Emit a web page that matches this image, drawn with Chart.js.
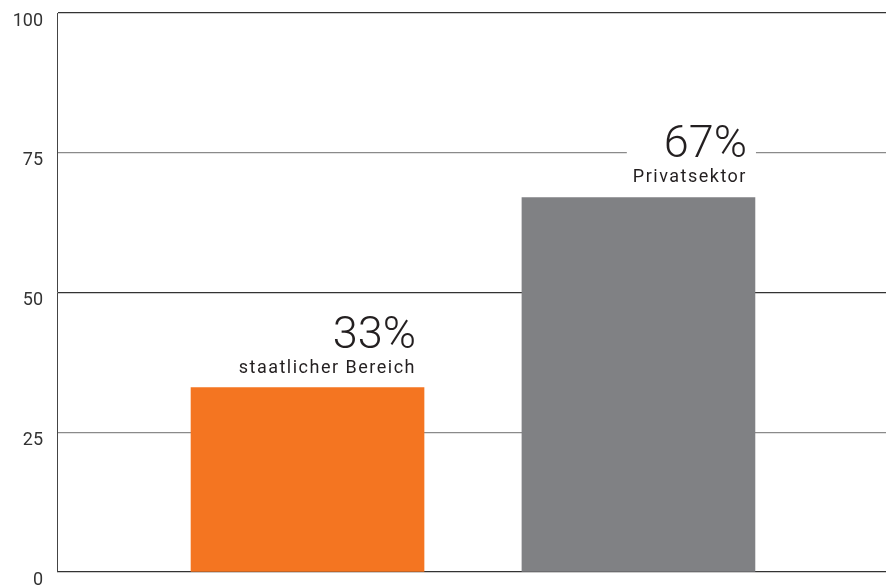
<!DOCTYPE html>
<html lang="de">
<head>
<meta charset="utf-8">
<title>Anteile</title>
<script src="https://cdn.jsdelivr.net/npm/chart.js@4/dist/chart.umd.min.js"></script>
<style>
  html, body { margin: 0; padding: 0; background: #fff; }
  #wrap { width: 893px; height: 586px; position: relative; }
</style>
</head>
<body>
<div id="wrap"><canvas id="myChart"></canvas></div>
<script>
"use strict";

// data
const categories = ["staatlicher Bereich", "Privatsektor"];
const shares = [33, 67];
const shareLabels = ["33%", "67%"];
const barColors = ["#f47521", "#808184"];
const yTicks = [0, 25, 50, 75, 100];

// big % value + small caption right-aligned above each bar, on a white patch
const barLabels = {
  id: "barLabels",
  afterDatasetsDraw(chart) {
    const ctx = chart.ctx;
    const meta = chart.getDatasetMeta(0);
    meta.data.forEach((bar, i) => {
      const right = bar.x + bar.width / 2 - 8;
      const capBase = bar.y - 15;
      const bigBase = bar.y - 40;

      ctx.save();
      ctx.font = "300 45px Roboto";
      const bigW = ctx.measureText(shareLabels[i]).width;
      ctx.font = "400 18px Roboto";
      ctx.letterSpacing = "1.5px";
      const capW = ctx.measureText(categories[i]).width;
      const boxLeft = right - Math.max(bigW, capW) - 6;
      ctx.fillStyle = "#fff";
      ctx.fillRect(boxLeft, bigBase - 30, bar.x + bar.width / 2 + 1 - boxLeft, bar.y - (bigBase - 30) - 2);

      ctx.fillStyle = "#231f20";
      ctx.textAlign = "right";
      ctx.textBaseline = "alphabetic";
      ctx.fillText(categories[i], right, capBase);
      ctx.letterSpacing = "0px";
      ctx.font = "300 45px Roboto";
      ctx.fillText(shareLabels[i], right, bigBase);
      ctx.restore();
    });
  }
};

const ctx = document.getElementById("myChart").getContext("2d");
const myChart = new Chart(ctx, {
  type: "bar",
  data: {
    datasets: [
      {
        data: shares.map((v, i) => ({ x: i + 1, y: v })),
        backgroundColor: barColors,
        borderWidth: 0,
        barThickness: 233,
      },
    ],
  },
  options: {
    responsive: true,
    maintainAspectRatio: false,
    animation: false,
    layout: { padding: { left: 0, right: 7, top: 13, bottom: 14 } },
    plugins: {
      legend: { display: false },
      tooltip: { enabled: false },
    },
    scales: {
      x: {
        type: "linear",
        min: 0.243,
        max: 2.748,
        offset: false,
        display: false,
      },
      y: {
        min: 0,
        max: 100,
        afterBuildTicks: (scale) => {
          scale.ticks = yTicks.map((v) => ({ value: v }));
        },
        afterFit: (scale) => {
          scale.width = 57;
          scale.paddingTop = 0;
          scale.paddingBottom = 0;
        },
        border: { display: true, color: "#444", width: 1 },
        grid: {
          drawTicks: false,
          tickLength: 0,
          lineWidth: 1.3,
          color: (c) => (c.tick && c.tick.value % 50 === 0 ? "#333" : "#8a8a8a"),
        },
        ticks: {
          color: "#333",
          padding: 14,
          labelOffset: 8,
          font: { family: "Roboto", size: 18 },
        },
      },
    },
  },
  plugins: [barLabels],
});
</script>
</body>
</html>
